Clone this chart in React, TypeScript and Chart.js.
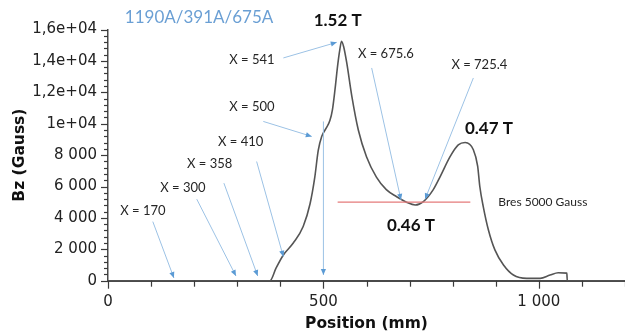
import React, { useEffect, useRef } from 'react';
import { Chart, registerables } from 'chart.js';

Chart.register(...registerables);

// Field profile: position (mm) vs Bz (Gauss)
const positionsMm = [0, 360, 376, 390, 407, 430, 453, 469, 480, 488, 496, 506, 515, 521, 527, 533, 538, 542, 547, 554, 566, 581, 600, 623, 646, 670, 693, 713, 732, 755, 771, 794, 813, 829, 848, 858, 863, 871, 883, 898, 918, 941, 972, 1003, 1026, 1045, 1065, 1066, 1200];
const bzGauss = [0, 0, 0, 800, 1640, 2400, 3450, 4900, 6600, 8300, 9190, 9700, 10200, 10900, 12200, 13700, 14700, 15250, 14900, 13900, 11740, 9600, 7900, 6600, 5800, 5350, 5000, 4820, 5040, 5800, 6630, 7900, 8650, 8800, 8340, 7300, 6000, 4720, 3230, 1960, 1000, 360, 150, 150, 360, 510, 480, 0, 0];

const xMin = 0;
const xMax = 1200;
const xStep = 100;
const xLabelEvery = 500;
const yMin = 0;
const yMax = 16000;
const yStep = 400;
const yLabelEvery = 2000;

const titleText = '1190A/391A/675A';
const xTitle = 'Position (mm)';
const yTitle = 'Bz (Gauss)';

// annotation texts: [text, x (mm), y (G)]
const markerLabels: [string, number, number][] = [
  ['X = 170', 81, 4427],
  ['X = 300', 174, 5914],
  ['X = 358', 236, 7445],
  ['X = 410', 308, 8849],
  ['X = 500', 334, 11081],
  ['X = 541', 334, 14080],
  ['X = 675.6', 645, 14443],
  ['X = 725.4', 862, 13742],
];
const fieldLabels: [string, number, number][] = [
  ['1.52 T', 533, 16600],
  ['0.47 T', 884, 9722],
  ['0.46 T', 703, 3490],
];
// arrows: [x1, y1, x2, y2] in data units, arrowhead at (x2, y2)
const arrowSegments: [number, number, number, number][] = [
  [104, 3764, 153, 172],
  [206, 5193, 297, 300],
  [269, 6214, 347.5, 300],
  [345, 7592, 407, 1531],
  [360.5, 10144, 473, 9187],
  [407, 14188, 531, 15183],
  [612, 13550, 680, 5148],
  [848, 12912, 736, 5193],
  [500, 10144, 500, 364],
];
const resonanceField = 5000;
const resonanceFrom = 533;
const resonanceTo = 841;
const resonanceText = 'Bres 5000 Gauss';
const resonanceTextX = 906;
const titleX = 39;
const titleY = 16760;

const fmtThousands = (v: number) => String(v).replace(/\B(?=(\d{3})+(?!\d))/g, ' ');

const overlayPlugin = {
  id: 'overlay',
  afterDraw(chart: any) {
    const { ctx, scales } = chart;
    const x = scales.x;
    const y = scales.y;
    const px = (v: number) => x.getPixelForValue(v);
    const py = (v: number) => y.getPixelForValue(v);
    ctx.save();

    // tick marks (major / minor)
    ctx.strokeStyle = '#3a3a3a';
    ctx.lineWidth = 1.2;
    const bottom = chart.chartArea.bottom;
    const left = chart.chartArea.left;
    x.ticks.forEach((t: any) => {
      const xp = Math.round(px(t.value)) + 0.5;
      const len = t.value % xLabelEvery === 0 ? 8 : 6;
      ctx.beginPath();
      ctx.moveTo(xp, bottom);
      ctx.lineTo(xp, bottom + len);
      ctx.stroke();
    });
    y.ticks.forEach((t: any) => {
      const yp = Math.round(py(t.value)) + 0.5;
      const len = t.value % yLabelEvery === 0 ? 7 : 4;
      ctx.beginPath();
      ctx.moveTo(left, yp);
      ctx.lineTo(left - len, yp);
      ctx.stroke();
    });

    // resonance line
    ctx.strokeStyle = '#e57b7b';
    ctx.lineWidth = 1.3;
    ctx.beginPath();
    ctx.moveTo(px(resonanceFrom), py(resonanceField));
    ctx.lineTo(px(resonanceTo), py(resonanceField));
    ctx.stroke();

    // arrows
    arrowSegments.forEach(([x1, y1, x2, y2]) => {
      const a = px(x1), b = py(y1), c = px(x2), d = py(y2);
      ctx.strokeStyle = '#9cc2e5';
      ctx.lineWidth = 1;
      ctx.beginPath();
      ctx.moveTo(a, b);
      ctx.lineTo(c, d);
      ctx.stroke();
      const ang = Math.atan2(d - b, c - a);
      const L = 6, W = 2.6;
      ctx.fillStyle = '#5b9bd5';
      ctx.beginPath();
      ctx.moveTo(c, d);
      ctx.lineTo(c - L * Math.cos(ang) + W * Math.sin(ang), d - L * Math.sin(ang) - W * Math.cos(ang));
      ctx.lineTo(c - L * Math.cos(ang) - W * Math.sin(ang), d - L * Math.sin(ang) + W * Math.cos(ang));
      ctx.closePath();
      ctx.fill();
    });

    // texts
    ctx.textBaseline = 'middle';
    ctx.textAlign = 'center';
    ctx.fillStyle = '#262626';
    ctx.font = '13px Lato';
    markerLabels.forEach(([t, xv, yv]) => ctx.fillText(t, px(xv), py(yv)));

    ctx.font = 'bold 17px Lato';
    ctx.fillStyle = '#111';
    fieldLabels.forEach(([t, xv, yv]) => ctx.fillText(t, px(xv), py(yv)));

    ctx.textAlign = 'left';
    ctx.font = '12px Lato';
    ctx.fillStyle = '#262626';
    ctx.fillText(resonanceText, px(resonanceTextX), py(resonanceField));

    ctx.font = '17px Lato';
    ctx.fillStyle = '#6a9fd4';
    ctx.fillText(titleText, px(titleX), py(titleY));

    ctx.restore();
  },
};

export default function App() {
  const canvasRef = useRef<HTMLCanvasElement | null>(null);

  useEffect(() => {
    document.body.style.margin = '0';
    const canvas = canvasRef.current;
    if (!canvas) return;
    const chart = new Chart(canvas, {
      type: 'line',
      data: {
        datasets: [
          {
            data: positionsMm.map((p, i) => ({ x: p, y: bzGauss[i] })),
            borderColor: '#555555',
            borderWidth: 1.6,
            pointRadius: 0,
            fill: false,
            cubicInterpolationMode: 'monotone',
          },
        ],
      },
      options: {
        responsive: false,
        animation: false,
        layout: { padding: { top: 29.5, right: 0, bottom: 0, left: 0 } },
        plugins: { legend: { display: false }, tooltip: { enabled: false }, title: { display: false } },
        scales: {
          x: {
            type: 'linear',
            min: xMin,
            max: xMax,
            afterFit: (s: any) => { s.height = 52.3; s.paddingRight = 0; s.paddingLeft = 0; },
            border: { display: true, color: '#4a4a4a', width: 2 },
            grid: { display: true, drawOnChartArea: false, drawTicks: true, tickLength: 6, color: 'rgba(0,0,0,0)' },
            ticks: {
              stepSize: xStep,
              autoSkip: false,
              maxRotation: 0,
              padding: 6,
              color: '#222',
              font: { family: 'DejaVu Sans', size: 15 },
              callback: (v: any) => (Number(v) % xLabelEvery === 0 ? fmtThousands(Number(v)) : ''),
            },
            title: {
              display: true,
              text: xTitle,
              color: '#111',
              font: { family: 'DejaVu Sans', size: 15.5, weight: 'bold' },
              padding: { top: 2, bottom: 0 },
            },
          },
          y: {
            type: 'linear',
            min: yMin,
            max: yMax,
            afterFit: (s: any) => { s.width = 108; },
            border: { display: true, color: '#4a4a4a', width: 1.5 },
            grid: { display: true, drawOnChartArea: false, drawTicks: true, tickLength: 6, color: 'rgba(0,0,0,0)' },
            ticks: {
              stepSize: yStep,
              autoSkip: false,
              padding: 5,
              color: '#222',
              font: { family: 'DejaVu Sans', size: 15 },
              callback: (v: any) => {
                const n = Number(v);
                if (n % yLabelEvery !== 0) return '';
                if (n >= 10000) return String(n / 10000).replace('.', ',') + 'e+04';
                return fmtThousands(n);
              },
            },
            title: {
              display: true,
              text: yTitle,
              color: '#111',
              font: { family: 'DejaVu Sans', size: 15.5, weight: 'bold' },
              padding: { top: 11, bottom: 0 },
            },
          },
        },
      },
      plugins: [overlayPlugin],
    } as any);
    return () => chart.destroy();
  }, []);

  return (
    <div style={{ width: 625, height: 333 }}>
      <canvas ref={canvasRef} width={625} height={333} style={{ display: 'block' }} />
    </div>
  );
}
